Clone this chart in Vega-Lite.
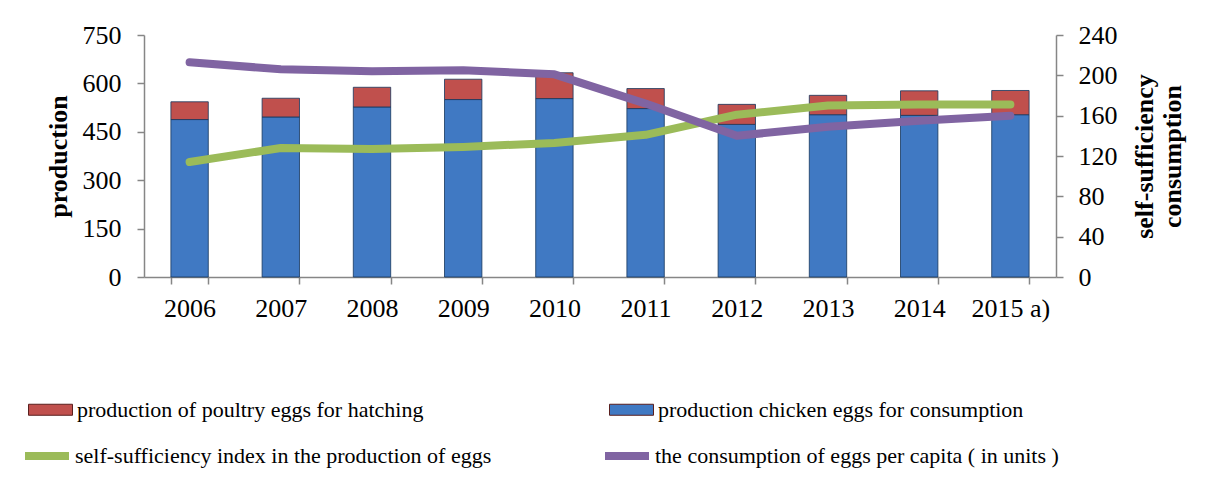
{
  "$schema": "https://vega.github.io/schema/vega-lite/v6.json",
  "width": 912,
  "height": 242,
  "autosize": {"type": "none"},
  "padding": {"left": 144, "top": 35, "right": 163, "bottom": 211},
  "background": "white",
  "config": {
    "view": {"stroke": null},
    "font": "Liberation Serif",
    "axis": {
      "labelFont": "Liberation Serif",
      "labelFontSize": 26,
      "labelColor": "#000000",
      "titleFont": "Liberation Serif",
      "titleFontSize": 26,
      "titleFontWeight": "bold",
      "titleColor": "#000000",
      "domainColor": "#868686",
      "tickColor": "#868686",
      "domainWidth": 1.5,
      "tickWidth": 1.5,
      "tickSize": 7,
      "grid": false
    },
    "legend": {
      "labelFont": "Liberation Serif",
      "labelFontSize": 22,
      "labelColor": "#000000",
      "labelLimit": 700
    }
  },
  "datasets": {
    "bars": [
      {"year": "2006", "series": "production chicken eggs for consumption", "value": 488},
      {"year": "2006", "series": "production of poultry eggs for hatching", "value": 55},
      {"year": "2007", "series": "production chicken eggs for consumption", "value": 496},
      {"year": "2007", "series": "production of poultry eggs for hatching", "value": 58},
      {"year": "2008", "series": "production chicken eggs for consumption", "value": 527},
      {"year": "2008", "series": "production of poultry eggs for hatching", "value": 61},
      {"year": "2009", "series": "production chicken eggs for consumption", "value": 550},
      {"year": "2009", "series": "production of poultry eggs for hatching", "value": 63},
      {"year": "2010", "series": "production chicken eggs for consumption", "value": 553},
      {"year": "2010", "series": "production of poultry eggs for hatching", "value": 80},
      {"year": "2011", "series": "production chicken eggs for consumption", "value": 522},
      {"year": "2011", "series": "production of poultry eggs for hatching", "value": 62},
      {"year": "2012", "series": "production chicken eggs for consumption", "value": 473},
      {"year": "2012", "series": "production of poultry eggs for hatching", "value": 62},
      {"year": "2013", "series": "production chicken eggs for consumption", "value": 503},
      {"year": "2013", "series": "production of poultry eggs for hatching", "value": 60},
      {"year": "2014", "series": "production chicken eggs for consumption", "value": 501},
      {"year": "2014", "series": "production of poultry eggs for hatching", "value": 76},
      {"year": "2015 a)", "series": "production chicken eggs for consumption", "value": 503},
      {"year": "2015 a)", "series": "production of poultry eggs for hatching", "value": 75}
    ],
    "lines": [
      {"year": "2006", "series": "self-sufficiency index in the production of eggs", "value": 114},
      {"year": "2007", "series": "self-sufficiency index in the production of eggs", "value": 128},
      {"year": "2008", "series": "self-sufficiency index in the production of eggs", "value": 127},
      {"year": "2009", "series": "self-sufficiency index in the production of eggs", "value": 129},
      {"year": "2010", "series": "self-sufficiency index in the production of eggs", "value": 133},
      {"year": "2011", "series": "self-sufficiency index in the production of eggs", "value": 141},
      {"year": "2012", "series": "self-sufficiency index in the production of eggs", "value": 161},
      {"year": "2013", "series": "self-sufficiency index in the production of eggs", "value": 170},
      {"year": "2014", "series": "self-sufficiency index in the production of eggs", "value": 171},
      {"year": "2015 a)", "series": "self-sufficiency index in the production of eggs", "value": 171},
      {"year": "2006", "series": "the consumption of eggs per capita ( in units )", "value": 213},
      {"year": "2007", "series": "the consumption of eggs per capita ( in units )", "value": 206},
      {"year": "2008", "series": "the consumption of eggs per capita ( in units )", "value": 204},
      {"year": "2009", "series": "the consumption of eggs per capita ( in units )", "value": 205},
      {"year": "2010", "series": "the consumption of eggs per capita ( in units )", "value": 201},
      {"year": "2011", "series": "the consumption of eggs per capita ( in units )", "value": 172},
      {"year": "2012", "series": "the consumption of eggs per capita ( in units )", "value": 140},
      {"year": "2013", "series": "the consumption of eggs per capita ( in units )", "value": 149},
      {"year": "2014", "series": "the consumption of eggs per capita ( in units )", "value": 155},
      {"year": "2015 a)", "series": "the consumption of eggs per capita ( in units )", "value": 160}
    ]
  },
  "layer": [
    {
      "data": {"name": "bars"},
      "mark": {"type": "bar", "stroke": "#17375E", "strokeWidth": 1, "strokeOpacity": 0.8},
      "encoding": {
        "x": {
          "field": "year",
          "type": "ordinal",
          "sort": null,
          "scale": {"paddingInner": 0.59, "paddingOuter": 0.295},
          "axis": {"title": null, "labelAngle": 0, "tickBand": "extent", "labelPadding": 11}
        },
        "y": {
          "field": "value",
          "type": "quantitative",
          "stack": "zero",
          "scale": {"domain": [0, 750]},
          "axis": {
            "values": [0, 150, 300, 450, 600, 750],
            "title": "production",
            "labelPadding": 16,
            "titlePadding": 11
          }
        },
        "color": {
          "field": "series",
          "type": "nominal",
          "scale": {
            "domain": ["production of poultry eggs for hatching", "production chicken eggs for consumption"],
            "range": ["#C0504D", "#4079C3"]
          },
          "legend": {
            "title": null,
            "orient": "none",
            "legendX": -116,
            "legendY": 352,
            "direction": "horizontal",
            "columns": 2,
            "columnPadding": 183,
            "symbolType": "M-1,-0.25H1V0.25H-1Z",
            "symbolSize": 1936,
            "symbolStrokeColor": "#5A1F1E",
            "symbolStrokeWidth": 1,
            "labelOffset": 4
          }
        },
        "order": {"field": "series", "sort": "ascending"}
      }
    },
    {
      "data": {"name": "lines"},
      "mark": {"type": "line", "strokeWidth": 8, "strokeCap": "round", "strokeJoin": "round"},
      "encoding": {
        "x": {"field": "year", "type": "ordinal", "sort": null},
        "y": {
          "field": "value",
          "type": "quantitative",
          "scale": {"domain": [0, 240]},
          "axis": {
            "orient": "right",
            "values": [0, 40, 80, 120, 160, 200, 240],
            "title": ["self-sufficiency", "consumption"],
            "titleAngle": 270,
            "titleLineHeight": 28,
            "labelPadding": 15,
            "titlePadding": 12
          }
        },
        "stroke": {
          "field": "series",
          "type": "nominal",
          "scale": {
            "domain": ["self-sufficiency index in the production of eggs", "the consumption of eggs per capita ( in units )"],
            "range": ["#9BBB59", "#8064A2"]
          },
          "legend": {
            "title": null,
            "orient": "none",
            "legendX": -123,
            "legendY": 395,
            "direction": "horizontal",
            "columns": 2,
            "columnPadding": 97,
            "symbolType": "stroke",
            "symbolSize": 1936,
            "symbolStrokeWidth": 8,
            "labelOffset": 2
          }
        }
      }
    }
  ],
  "resolve": {"scale": {"y": "independent"}}
}
